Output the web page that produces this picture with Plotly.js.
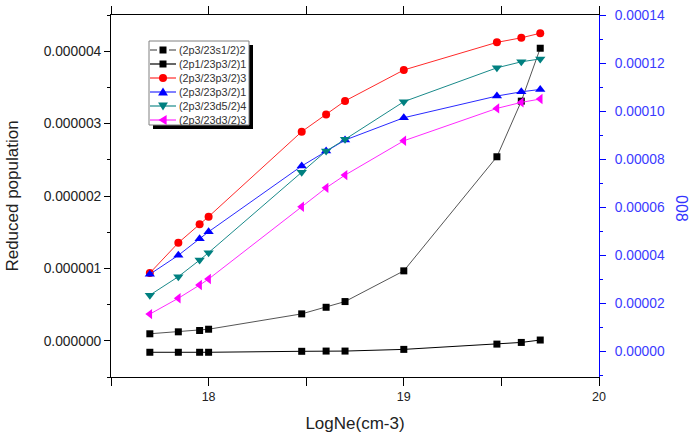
<!DOCTYPE html>
<html>
<head>
<meta charset="utf-8">
<script src="https://cdn.plot.ly/plotly-3.0.1.min.js"></script>
<style>
  html, body { margin: 0; padding: 0; background: #fff; }
  #chart { width: 691px; height: 439px; }
</style>
</head>
<body>
<div id="chart"></div>
<script>
// Electron density (log10 Ne, cm-3)
const logNe = [17.699, 17.845, 17.954, 18.0, 18.477, 18.602, 18.699, 19.0, 19.477, 19.602, 19.699];

// Level names
const levelNames = [
  '(2p3/23s1/2)2',
  '(2p1/23p3/2)1',
  '(2p3/23p3/2)3',
  '(2p3/23p3/2)1',
  '(2p3/23d5/2)4',
  '(2p3/23d3/2)3'
];

// Reduced populations (left axis)
const pop_3s12_2 = [9.7e-8, 1.24e-7, 1.42e-7, 1.6e-7, 3.72e-7, 4.63e-7, 5.42e-7, 9.66e-7, 2.542e-6, 3.31e-6, 4.041e-6];

// Populations plotted on the right axis
const pop_3p32_1b = [-5e-7, -5e-7, -5e-7, -5e-7, -1e-7, 0, 0, 7e-7, 2.9e-6, 3.6e-6, 4.6e-6];
const pop_3p32_3  = [3.25e-5, 4.51e-5, 5.28e-5, 5.60e-5, 9.14e-5, 9.86e-5, 1.042e-4, 1.171e-4, 1.286e-4, 1.305e-4, 1.324e-4];
const pop_3p32_1  = [3.2e-5, 3.99e-5, 4.68e-5, 4.97e-5, 7.71e-5, 8.33e-5, 8.79e-5, 9.72e-5, 1.0625e-4, 1.08e-4, 1.09e-4];
const pop_3d52_4  = [2.33e-5, 3.10e-5, 3.79e-5, 4.10e-5, 7.45e-5, 8.33e-5, 8.82e-5, 1.039e-4, 1.18e-4, 1.205e-4, 1.217e-4];
const pop_3d32_3  = [1.54e-5, 2.20e-5, 2.75e-5, 3.00e-5, 6.01e-5, 6.80e-5, 7.33e-5, 8.76e-5, 1.011e-4, 1.036e-4, 1.05e-4];

// Drawing styles for each level
const styles = [
  {line: '#555555', marker: '#000000', symbol: 'square', size: 7, axis: 'y'},
  {line: '#000000', marker: '#000000', symbol: 'square', size: 7, axis: 'y2'},
  {line: '#ff2a2a', marker: '#ff0000', symbol: 'circle', size: 8, axis: 'y2'},
  {line: '#2a2aff', marker: '#0000ff', symbol: 'triangle-up', size: 9, axis: 'y2'},
  {line: '#1a8a8a', marker: '#008080', symbol: 'triangle-down', size: 9, axis: 'y2'},
  {line: '#ff2aff', marker: '#ff00ff', symbol: 'triangle-left', size: 9, axis: 'y2'}
];
const seriesValues = [pop_3s12_2, pop_3p32_1b, pop_3p32_3, pop_3p32_1, pop_3d52_4, pop_3d32_3];

const traces = seriesValues.map((vals, i) => ({
  type: 'scatter',
  mode: 'lines+markers',
  name: levelNames[i],
  x: logNe,
  y: vals,
  yaxis: styles[i].axis,
  line: {color: styles[i].line, width: 1},
  marker: {color: styles[i].marker, symbol: styles[i].symbol, size: styles[i].size, line: {width: 0}},
  showlegend: false,
  cliponaxis: false
}));

// Plot-area geometry in pixels
const M = {l: 111, r: 92, t: 15, b: 62};
const W = 691, H = 439;
const PW = W - M.l - M.r, PH = H - M.t - M.b;
const X = px => (px - M.l) / PW;
const Y = py => (H - M.b - py) / PH;

// Boxed key with drop shadow
const shapes = [];
const annotations = [];
const box = {x0: 149, y0: 41, x1: 249, y1: 125};
shapes.push({type: 'rect', xref: 'paper', yref: 'paper', layer: 'above',
  x0: X(box.x0 + 4), x1: X(box.x1 + 4), y0: Y(box.y0 + 4), y1: Y(box.y1 + 4),
  fillcolor: '#000', line: {width: 0}});
shapes.push({type: 'rect', xref: 'paper', yref: 'paper', layer: 'above',
  x0: X(box.x0), x1: X(box.x1), y0: Y(box.y0), y1: Y(box.y1),
  fillcolor: '#fff', line: {color: '#808080', width: 1}});

function markerShape(sym, cx, cy, size, color) {
  const r = size / 2;
  if (sym === 'square') {
    return {type: 'rect', xref: 'paper', yref: 'paper', layer: 'above',
      x0: X(cx - r), x1: X(cx + r), y0: Y(cy + r), y1: Y(cy - r), fillcolor: color, line: {width: 0}};
  }
  if (sym === 'circle') {
    return {type: 'circle', xref: 'paper', yref: 'paper', layer: 'above',
      x0: X(cx - r), x1: X(cx + r), y0: Y(cy + r), y1: Y(cy - r), fillcolor: color, line: {width: 0}};
  }
  const h = r * 1.0, w = r * 1.1;
  let pts;
  if (sym === 'triangle-up') pts = [[cx - w, cy + h * 0.8], [cx + w, cy + h * 0.8], [cx, cy - h]];
  else if (sym === 'triangle-down') pts = [[cx - w, cy - h * 0.8], [cx + w, cy - h * 0.8], [cx, cy + h]];
  else pts = [[cx + h * 0.8, cy - w], [cx + h * 0.8, cy + w], [cx - h, cy]];
  const path = 'M' + pts.map(p => X(p[0]) + ',' + Y(p[1])).join(' L') + ' Z';
  return {type: 'path', xref: 'paper', yref: 'paper', layer: 'above', path: path,
    fillcolor: color, line: {width: 0}};
}

levelNames.forEach((name, i) => {
  const cy = 50 + 14 * i;
  const st = styles[i];
  if (i === 0) {
    shapes.push({type: 'line', xref: 'paper', yref: 'paper', layer: 'above',
      x0: X(150), x1: X(157), y0: Y(cy), y1: Y(cy), line: {color: st.line, width: 1.2}});
    shapes.push({type: 'line', xref: 'paper', yref: 'paper', layer: 'above',
      x0: X(169), x1: X(176), y0: Y(cy), y1: Y(cy), line: {color: st.line, width: 1.2}});
  } else {
    shapes.push({type: 'line', xref: 'paper', yref: 'paper', layer: 'above',
      x0: X(150), x1: X(176), y0: Y(cy), y1: Y(cy), line: {color: st.line, width: 1.2}});
  }
  shapes.push(markerShape(st.symbol, 163, cy, st.size, st.marker));
  annotations.push({xref: 'paper', yref: 'paper', x: X(177), y: Y(cy),
    xanchor: 'left', yanchor: 'middle', showarrow: false, text: name,
    font: {size: 10.8, color: '#333'}});
});

// Right axis title
annotations.push({xref: 'paper', yref: 'paper', x: X(682), y: Y(208),
  xanchor: 'center', yanchor: 'middle', showarrow: false, text: '008', textangle: 90,
  font: {size: 16, color: '#3333ff'}});

const layout = {
  width: W, height: H,
  margin: {l: M.l, r: M.r, t: M.t, b: M.b, pad: 0},
  paper_bgcolor: '#fff', plot_bgcolor: '#fff',
  font: {family: 'Arial, "Liberation Sans", sans-serif', color: '#222'},
  showlegend: false,
  xaxis: {
    range: [17.5, 20], tick0: 18, dtick: 1,
    ticks: 'outside', ticklen: 8, tickwidth: 1, tickcolor: '#000',
    showline: true, linecolor: '#000', linewidth: 1, mirror: 'allticks',
    showgrid: false, zeroline: false,
    tickfont: {size: 12.5, color: '#222'},
    minor: {tick0: 17.5, dtick: 0.5, ticks: 'outside', ticklen: 5, tickcolor: '#000', showgrid: false},
    title: {text: 'LogNe(cm-3)', font: {size: 17, color: '#222'}, standoff: 14}
  },
  yaxis: {
    range: [-5e-7, 4.5e-6], tick0: 0, dtick: 1e-6, tickformat: '.6f',
    ticks: 'outside', ticklen: 6, tickwidth: 1, tickcolor: '#000',
    showline: true, linecolor: '#000', linewidth: 1,
    showgrid: false, zeroline: false,
    tickfont: {size: 13.8, color: '#222'},
    minor: {tick0: 0, dtick: 5e-7, ticks: 'outside', ticklen: 3, tickcolor: '#000', showgrid: false},
    title: {text: 'Reduced population', font: {size: 17, color: '#222'}, standoff: 20}
  },
  yaxis2: {
    overlaying: 'y', side: 'right', anchor: 'x',
    range: [-1.08e-5, 1.4e-4], tick0: 0, dtick: 2e-5, tickformat: '.5f',
    ticks: 'outside', ticklen: 6, tickwidth: 1, tickcolor: '#0000ff',
    ticklabelstandoff: 6,
    showline: true, linecolor: '#0000ff', linewidth: 1,
    showgrid: false, zeroline: false,
    tickfont: {size: 13.8, color: '#3b3bff'},
    minor: {tick0: 0, dtick: 1e-5, ticks: 'outside', ticklen: 3, tickcolor: '#0000ff', showgrid: false}
  },
  shapes: shapes,
  annotations: annotations
};

Plotly.newPlot('chart', traces, layout, {displayModeBar: false, staticPlot: true});
</script>
</body>
</html>
